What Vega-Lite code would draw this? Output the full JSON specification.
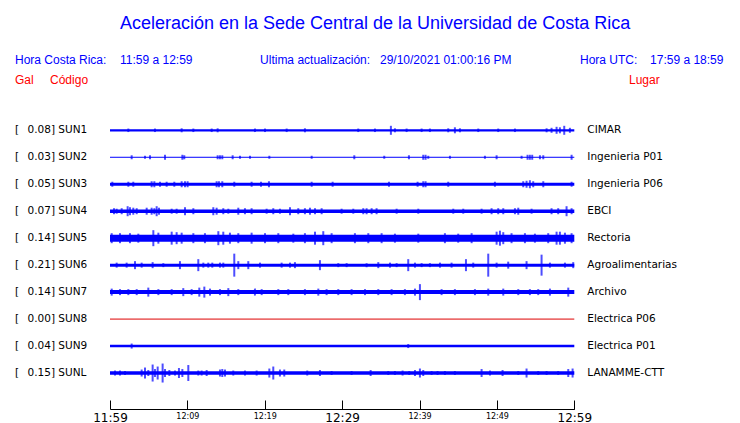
{
  "$schema": "https://vega.github.io/schema/vega-lite/v6.json",
  "width": 464.3,
  "height": 296.67,
  "autosize": {"type": "none"},
  "padding": {"left": 110, "right": 165.7, "top": 103.33, "bottom": 23},
  "background": "white",
  "config": {"view": {"stroke": null}},
  "datasets": {
    "estaciones": [
      {"codigo": "SUN1", "etiqueta": "0.08] SUN1", "lugar": "CIMAR", "fila": 1, "ruido": 2.2, "estado": "activa"},
      {"codigo": "SUN2", "etiqueta": "0.03] SUN2", "lugar": "Ingenieria P01", "fila": 2, "ruido": 1, "estado": "activa"},
      {"codigo": "SUN3", "etiqueta": "0.05] SUN3", "lugar": "Ingenieria P06", "fila": 3, "ruido": 3, "estado": "activa"},
      {"codigo": "SUN4", "etiqueta": "0.07] SUN4", "lugar": "EBCI", "fila": 4, "ruido": 3.5, "estado": "activa"},
      {"codigo": "SUN5", "etiqueta": "0.14] SUN5", "lugar": "Rectoria", "fila": 5, "ruido": 7, "estado": "activa"},
      {"codigo": "SUN6", "etiqueta": "0.21] SUN6", "lugar": "Agroalimentarias", "fila": 6, "ruido": 3, "estado": "activa"},
      {"codigo": "SUN7", "etiqueta": "0.14] SUN7", "lugar": "Archivo", "fila": 7, "ruido": 4, "estado": "activa"},
      {"codigo": "SUN8", "etiqueta": "0.00] SUN8", "lugar": "Electrica P06", "fila": 8, "ruido": 1, "estado": "sin datos"},
      {"codigo": "SUN9", "etiqueta": "0.04] SUN9", "lugar": "Electrica P01", "fila": 9, "ruido": 2.5, "estado": "activa"},
      {"codigo": "SUNL", "etiqueta": "0.15] SUNL", "lugar": "LANAMME-CTT", "fila": 10, "ruido": 3.5, "estado": "activa"}
    ],
    "picos": [
      {"c":"SUN1","t":2.37,"a":3.5},{"c":"SUN1","t":5.81,"a":3.5},{"c":"SUN1","t":9.26,"a":4},{"c":"SUN1","t":10.77,"a":3.5},{"c":"SUN1","t":13.14,"a":3.5},{"c":"SUN1","t":13.91,"a":4},{"c":"SUN1","t":18.73,"a":3.5},{"c":"SUN1","t":20.03,"a":3.5},{"c":"SUN1","t":22.83,"a":3.5},{"c":"SUN1","t":25.19,"a":4},{"c":"SUN1","t":32.08,"a":3.5},{"c":"SUN1","t":34.24,"a":3.5},{"c":"SUN1","t":36.3,"a":9},{"c":"SUN1","t":36.82,"a":4},{"c":"SUN1","t":38.33,"a":3.5},{"c":"SUN1","t":40.27,"a":3.5},{"c":"SUN1","t":41.34,"a":3.5},{"c":"SUN1","t":43.71,"a":4},{"c":"SUN1","t":44.57,"a":6},{"c":"SUN1","t":45.22,"a":4},{"c":"SUN1","t":47.59,"a":3.5},{"c":"SUN1","t":50.17,"a":3.5},{"c":"SUN1","t":52.33,"a":3.5},{"c":"SUN1","t":56.42,"a":4},{"c":"SUN1","t":57.06,"a":5},{"c":"SUN1","t":57.71,"a":7},{"c":"SUN1","t":58.14,"a":6},{"c":"SUN1","t":58.7,"a":9},{"c":"SUN1","t":59.43,"a":5},
      {"c":"SUN2","t":2.8,"a":4},{"c":"SUN2","t":4.52,"a":3},{"c":"SUN2","t":5.17,"a":4},{"c":"SUN2","t":7.11,"a":5},{"c":"SUN2","t":9.35,"a":5},{"c":"SUN2","t":9.6,"a":4},{"c":"SUN2","t":13.91,"a":4},{"c":"SUN2","t":14.21,"a":4},{"c":"SUN2","t":14.51,"a":4},{"c":"SUN2","t":15.85,"a":4},{"c":"SUN2","t":16.8,"a":3},{"c":"SUN2","t":18.09,"a":3},{"c":"SUN2","t":20.59,"a":3},{"c":"SUN2","t":26.06,"a":3},{"c":"SUN2","t":31.57,"a":4},{"c":"SUN2","t":35.44,"a":3},{"c":"SUN2","t":38.63,"a":4},{"c":"SUN2","t":40.48,"a":5},{"c":"SUN2","t":40.78,"a":5},{"c":"SUN2","t":41.13,"a":3},{"c":"SUN2","t":43.93,"a":3},{"c":"SUN2","t":48.45,"a":3},{"c":"SUN2","t":49.96,"a":4},{"c":"SUN2","t":53.19,"a":3},{"c":"SUN2","t":53.96,"a":5},{"c":"SUN2","t":54.26,"a":5},{"c":"SUN2","t":54.56,"a":5},{"c":"SUN2","t":55.56,"a":4},{"c":"SUN2","t":55.99,"a":4},{"c":"SUN2","t":59.65,"a":5},
      {"c":"SUN3","t":0.3,"a":5},{"c":"SUN3","t":2.37,"a":5},{"c":"SUN3","t":3.01,"a":5},{"c":"SUN3","t":5.38,"a":6},{"c":"SUN3","t":5.73,"a":6},{"c":"SUN3","t":6.46,"a":5},{"c":"SUN3","t":7.32,"a":5},{"c":"SUN3","t":8.31,"a":5},{"c":"SUN3","t":9.26,"a":6},{"c":"SUN3","t":9.69,"a":6},{"c":"SUN3","t":10.03,"a":6},{"c":"SUN3","t":13.78,"a":6},{"c":"SUN3","t":14.08,"a":6},{"c":"SUN3","t":14.51,"a":6},{"c":"SUN3","t":16.06,"a":5},{"c":"SUN3","t":18.3,"a":5},{"c":"SUN3","t":19.51,"a":5},{"c":"SUN3","t":20.54,"a":6},{"c":"SUN3","t":26.06,"a":5},{"c":"SUN3","t":28.77,"a":5},{"c":"SUN3","t":36.05,"a":5},{"c":"SUN3","t":39.75,"a":5},{"c":"SUN3","t":40.48,"a":6},{"c":"SUN3","t":40.78,"a":6},{"c":"SUN3","t":43.71,"a":5},{"c":"SUN3","t":49.74,"a":5},{"c":"SUN3","t":53.4,"a":6},{"c":"SUN3","t":53.83,"a":7},{"c":"SUN3","t":54.26,"a":8},{"c":"SUN3","t":54.69,"a":6},{"c":"SUN3","t":55.99,"a":6},{"c":"SUN3","t":59.65,"a":5},
      {"c":"SUN4","t":0.52,"a":6},{"c":"SUN4","t":0.86,"a":5},{"c":"SUN4","t":1.51,"a":6},{"c":"SUN4","t":2.28,"a":10},{"c":"SUN4","t":2.58,"a":8},{"c":"SUN4","t":3.01,"a":7},{"c":"SUN4","t":3.45,"a":6},{"c":"SUN4","t":4.74,"a":7},{"c":"SUN4","t":5.38,"a":7},{"c":"SUN4","t":5.73,"a":6},{"c":"SUN4","t":6.03,"a":10},{"c":"SUN4","t":6.33,"a":7},{"c":"SUN4","t":7.97,"a":5},{"c":"SUN4","t":8.61,"a":5},{"c":"SUN4","t":9.69,"a":8},{"c":"SUN4","t":10.77,"a":6},{"c":"SUN4","t":13.35,"a":8},{"c":"SUN4","t":13.78,"a":7},{"c":"SUN4","t":14.64,"a":6},{"c":"SUN4","t":15.29,"a":5},{"c":"SUN4","t":16.58,"a":7},{"c":"SUN4","t":17.44,"a":6},{"c":"SUN4","t":18.3,"a":6},{"c":"SUN4","t":20.24,"a":5},{"c":"SUN4","t":21.1,"a":6},{"c":"SUN4","t":21.96,"a":5},{"c":"SUN4","t":23.26,"a":8},{"c":"SUN4","t":24.33,"a":6},{"c":"SUN4","t":25.19,"a":6},{"c":"SUN4","t":25.84,"a":7},{"c":"SUN4","t":26.49,"a":6},{"c":"SUN4","t":27.35,"a":6},{"c":"SUN4","t":29.93,"a":5},{"c":"SUN4","t":31.44,"a":5},{"c":"SUN4","t":32.73,"a":6},{"c":"SUN4","t":33.16,"a":6},{"c":"SUN4","t":33.81,"a":6},{"c":"SUN4","t":34.45,"a":6},{"c":"SUN4","t":37.04,"a":5},{"c":"SUN4","t":39.84,"a":5},{"c":"SUN4","t":44.36,"a":5},{"c":"SUN4","t":45.65,"a":5},{"c":"SUN4","t":48.02,"a":5},{"c":"SUN4","t":49.31,"a":6},{"c":"SUN4","t":50.17,"a":6},{"c":"SUN4","t":50.82,"a":6},{"c":"SUN4","t":52.33,"a":6},{"c":"SUN4","t":52.76,"a":7},{"c":"SUN4","t":54.48,"a":5},{"c":"SUN4","t":57.06,"a":6},{"c":"SUN4","t":57.92,"a":6},{"c":"SUN4","t":59.0,"a":10},{"c":"SUN4","t":59.65,"a":6},
      {"c":"SUN5","t":0.22,"a":10},{"c":"SUN5","t":1.29,"a":10},{"c":"SUN5","t":2.58,"a":10},{"c":"SUN5","t":3.66,"a":9},{"c":"SUN5","t":5.6,"a":16},{"c":"SUN5","t":6.25,"a":11},{"c":"SUN5","t":7.97,"a":13},{"c":"SUN5","t":8.61,"a":12},{"c":"SUN5","t":9.26,"a":11},{"c":"SUN5","t":10.77,"a":10},{"c":"SUN5","t":12.27,"a":10},{"c":"SUN5","t":14.0,"a":14},{"c":"SUN5","t":14.64,"a":13},{"c":"SUN5","t":15.5,"a":11},{"c":"SUN5","t":16.58,"a":10},{"c":"SUN5","t":18.3,"a":11},{"c":"SUN5","t":20.03,"a":10},{"c":"SUN5","t":21.75,"a":10},{"c":"SUN5","t":23.69,"a":9},{"c":"SUN5","t":25.19,"a":10},{"c":"SUN5","t":26.49,"a":13},{"c":"SUN5","t":27.56,"a":14},{"c":"SUN5","t":28.64,"a":10},{"c":"SUN5","t":31.65,"a":10},{"c":"SUN5","t":33.38,"a":10},{"c":"SUN5","t":35.1,"a":10},{"c":"SUN5","t":36.82,"a":9},{"c":"SUN5","t":39.84,"a":9},{"c":"SUN5","t":43.28,"a":10},{"c":"SUN5","t":45.0,"a":9},{"c":"SUN5","t":46.73,"a":10},{"c":"SUN5","t":49.96,"a":13},{"c":"SUN5","t":50.39,"a":15},{"c":"SUN5","t":50.82,"a":12},{"c":"SUN5","t":51.89,"a":10},{"c":"SUN5","t":53.62,"a":10},{"c":"SUN5","t":54.91,"a":9},{"c":"SUN5","t":56.63,"a":10},{"c":"SUN5","t":57.71,"a":13},{"c":"SUN5","t":58.14,"a":13},{"c":"SUN5","t":58.79,"a":11},{"c":"SUN5","t":59.65,"a":10},
      {"c":"SUN6","t":0.86,"a":5},{"c":"SUN6","t":2.15,"a":5},{"c":"SUN6","t":3.23,"a":8},{"c":"SUN6","t":4.09,"a":5},{"c":"SUN6","t":5.51,"a":6},{"c":"SUN6","t":6.89,"a":4},{"c":"SUN6","t":9.04,"a":8},{"c":"SUN6","t":11.41,"a":12},{"c":"SUN6","t":12.06,"a":5},{"c":"SUN6","t":12.7,"a":5},{"c":"SUN6","t":13.22,"a":5},{"c":"SUN6","t":14.21,"a":5},{"c":"SUN6","t":14.64,"a":5},{"c":"SUN6","t":16.06,"a":23},{"c":"SUN6","t":16.58,"a":8},{"c":"SUN6","t":17.87,"a":8},{"c":"SUN6","t":19.38,"a":5},{"c":"SUN6","t":22.18,"a":5},{"c":"SUN6","t":23.26,"a":5},{"c":"SUN6","t":23.9,"a":6},{"c":"SUN6","t":27.13,"a":10},{"c":"SUN6","t":29.5,"a":4},{"c":"SUN6","t":30.58,"a":4},{"c":"SUN6","t":33.16,"a":4},{"c":"SUN6","t":34.67,"a":6},{"c":"SUN6","t":36.18,"a":5},{"c":"SUN6","t":37.04,"a":4},{"c":"SUN6","t":38.54,"a":12},{"c":"SUN6","t":39.41,"a":5},{"c":"SUN6","t":40.27,"a":4},{"c":"SUN6","t":41.34,"a":4},{"c":"SUN6","t":42.64,"a":5},{"c":"SUN6","t":44.14,"a":5},{"c":"SUN6","t":46.0,"a":12},{"c":"SUN6","t":46.94,"a":5},{"c":"SUN6","t":48.88,"a":23},{"c":"SUN6","t":49.96,"a":5},{"c":"SUN6","t":51.46,"a":7},{"c":"SUN6","t":53.83,"a":8},{"c":"SUN6","t":55.77,"a":21},{"c":"SUN6","t":56.85,"a":5},{"c":"SUN6","t":58.79,"a":5},{"c":"SUN6","t":59.86,"a":6},
      {"c":"SUN7","t":0.22,"a":7},{"c":"SUN7","t":1.29,"a":6},{"c":"SUN7","t":2.37,"a":6},{"c":"SUN7","t":3.45,"a":6},{"c":"SUN7","t":4.95,"a":9},{"c":"SUN7","t":6.25,"a":6},{"c":"SUN7","t":7.97,"a":6},{"c":"SUN7","t":9.47,"a":8},{"c":"SUN7","t":10.55,"a":6},{"c":"SUN7","t":11.54,"a":9},{"c":"SUN7","t":12.19,"a":11},{"c":"SUN7","t":12.92,"a":7},{"c":"SUN7","t":14.21,"a":6},{"c":"SUN7","t":15.29,"a":8},{"c":"SUN7","t":16.58,"a":6},{"c":"SUN7","t":18.73,"a":7},{"c":"SUN7","t":19.6,"a":6},{"c":"SUN7","t":21.75,"a":6},{"c":"SUN7","t":23.04,"a":6},{"c":"SUN7","t":25.19,"a":6},{"c":"SUN7","t":26.92,"a":7},{"c":"SUN7","t":27.99,"a":6},{"c":"SUN7","t":29.5,"a":6},{"c":"SUN7","t":31.22,"a":6},{"c":"SUN7","t":32.95,"a":6},{"c":"SUN7","t":34.67,"a":6},{"c":"SUN7","t":36.39,"a":6},{"c":"SUN7","t":38.11,"a":6},{"c":"SUN7","t":39.41,"a":7},{"c":"SUN7","t":40.05,"a":16},{"c":"SUN7","t":42.85,"a":6},{"c":"SUN7","t":44.57,"a":6},{"c":"SUN7","t":47.16,"a":6},{"c":"SUN7","t":48.88,"a":7},{"c":"SUN7","t":50.82,"a":7},{"c":"SUN7","t":52.76,"a":6},{"c":"SUN7","t":54.26,"a":6},{"c":"SUN7","t":55.34,"a":6},{"c":"SUN7","t":56.85,"a":7},{"c":"SUN7","t":59.22,"a":9},
      {"c":"SUN9","t":2.8,"a":5},{"c":"SUN9","t":38.54,"a":4},
      {"c":"SUNL","t":0.65,"a":5},{"c":"SUNL","t":1.29,"a":5},{"c":"SUNL","t":1.94,"a":4},{"c":"SUNL","t":4.09,"a":7},{"c":"SUNL","t":4.52,"a":11},{"c":"SUNL","t":4.95,"a":6},{"c":"SUNL","t":5.51,"a":17},{"c":"SUNL","t":5.81,"a":8},{"c":"SUNL","t":6.16,"a":13},{"c":"SUNL","t":6.8,"a":19},{"c":"SUNL","t":7.11,"a":8},{"c":"SUNL","t":7.67,"a":6},{"c":"SUNL","t":8.4,"a":5},{"c":"SUNL","t":8.91,"a":10},{"c":"SUNL","t":9.35,"a":8},{"c":"SUNL","t":10.12,"a":16},{"c":"SUNL","t":11.41,"a":5},{"c":"SUNL","t":11.84,"a":5},{"c":"SUNL","t":12.49,"a":6},{"c":"SUNL","t":14.21,"a":7},{"c":"SUNL","t":14.51,"a":8},{"c":"SUNL","t":14.86,"a":7},{"c":"SUNL","t":15.93,"a":5},{"c":"SUNL","t":17.44,"a":5},{"c":"SUNL","t":18.95,"a":5},{"c":"SUNL","t":20.59,"a":9},{"c":"SUNL","t":21.1,"a":13},{"c":"SUNL","t":21.96,"a":7},{"c":"SUNL","t":22.52,"a":7},{"c":"SUNL","t":25.49,"a":5},{"c":"SUNL","t":27.13,"a":6},{"c":"SUNL","t":28.64,"a":4},{"c":"SUNL","t":31.22,"a":4},{"c":"SUNL","t":33.68,"a":6},{"c":"SUNL","t":35.96,"a":4},{"c":"SUNL","t":36.82,"a":4},{"c":"SUNL","t":37.81,"a":5},{"c":"SUNL","t":38.67,"a":4},{"c":"SUNL","t":39.41,"a":6},{"c":"SUNL","t":40.05,"a":9},{"c":"SUNL","t":40.48,"a":6},{"c":"SUNL","t":41.56,"a":4},{"c":"SUNL","t":42.33,"a":4},{"c":"SUNL","t":43.28,"a":4},{"c":"SUNL","t":44.57,"a":4},{"c":"SUNL","t":48.02,"a":8},{"c":"SUNL","t":49.1,"a":5},{"c":"SUNL","t":50.73,"a":6},{"c":"SUNL","t":52.76,"a":4},{"c":"SUNL","t":53.83,"a":9},{"c":"SUNL","t":55.34,"a":4},{"c":"SUNL","t":56.42,"a":4},{"c":"SUNL","t":57.92,"a":4},{"c":"SUNL","t":59.22,"a":8},{"c":"SUNL","t":59.78,"a":9}
    ]
  },
  "layer": [
    {
      "data": {"name": "estaciones"},
      "mark": {"type": "rule"},
      "encoding": {
        "x": {"datum": 0, "type": "quantitative"},
        "x2": {"datum": 60},
        "y": {"field": "fila", "type": "quantitative", "scale": {"domain": [0, 11], "reverse": true, "nice": false, "zero": false}, "axis": null},
        "strokeWidth": {"field": "ruido", "type": "quantitative", "scale": {"domain": [0, 10], "range": [0, 10]}, "legend": null},
        "color": {"field": "estado", "type": "nominal", "scale": {"domain": ["activa", "sin datos"], "range": ["#0000ff", "#dd0000"]}, "legend": null}
      }
    },
    {
      "data": {"name": "picos"},
      "transform": [{"lookup": "c", "from": {"data": {"name": "estaciones"}, "key": "codigo", "fields": ["fila"]}}],
      "mark": {"type": "tick", "orient": "vertical", "thickness": 2, "color": "#0000ff"},
      "encoding": {
        "x": {"field": "t", "type": "quantitative", "scale": {"domain": [0, 60], "nice": false, "zero": false},
          "axis": {
            "title": null, "orient": "bottom", "offset": 9, "grid": false,
            "values": [0, 5, 10, 15, 20, 25, 30, 35, 40, 45, 50, 55, 60],
            "labelExpr": "datum.value % 10 == 0 ? ['11:59','12:09','12:19','12:29','12:39','12:49','12:59'][datum.value / 10] : ''",
            "tickSize": -9, "tickColor": "black", "tickWidth": 1,
            "domainColor": "black", "domainWidth": 1,
            "labelColor": "black", "labelFont": "DejaVu Sans",
            "labelFontSize": {"condition": {"test": "datum.value % 30 == 0", "value": 12}, "value": 8},
            "labelBaseline": "alphabetic",
            "labelPadding": {"condition": {"test": "datum.value % 30 == 0", "value": 21}, "value": 18.3},
            "labelOverlap": false, "labelFlush": false, "labelBound": false
          }},
        "y": {"field": "fila", "type": "quantitative", "axis": null},
        "size": {"field": "a", "type": "quantitative", "scale": {"domain": [0, 25], "range": [0, 25]}, "legend": null}
      }
    },
    {
      "data": {"name": "estaciones"},
      "mark": {"type": "text", "text": "[", "align": "left", "baseline": "middle", "font": "DejaVu Sans", "fontSize": 10.5, "color": "black"},
      "encoding": {
        "x": {"datum": -12.28, "type": "quantitative"},
        "y": {"field": "fila", "type": "quantitative", "axis": null}
      }
    },
    {
      "data": {"name": "estaciones"},
      "mark": {"type": "text", "align": "left", "baseline": "middle", "font": "DejaVu Sans", "fontSize": 10.5, "color": "black"},
      "encoding": {
        "x": {"datum": -10.66, "type": "quantitative"},
        "y": {"field": "fila", "type": "quantitative", "axis": null},
        "text": {"field": "etiqueta", "type": "nominal"}
      }
    },
    {
      "data": {"name": "estaciones"},
      "mark": {"type": "text", "align": "left", "baseline": "middle", "font": "DejaVu Sans", "fontSize": 10.5, "color": "black"},
      "encoding": {
        "x": {"datum": 61.68, "type": "quantitative"},
        "y": {"field": "fila", "type": "quantitative", "axis": null},
        "text": {"field": "lugar", "type": "nominal"}
      }
    },
    {
      "data": {"values": [{"texto": "Aceleración en la Sede Central de la Universidad de Costa Rica"}]},
      "mark": {"type": "text", "align": "center", "baseline": "alphabetic", "font": "Liberation Sans", "fontSize": 18, "color": "#0000ff"},
      "encoding": {"x": {"datum": 34.25, "type": "quantitative"}, "y": {"datum": -2.756, "type": "quantitative", "axis": null}, "text": {"field": "texto", "type": "nominal"}}
    },
    {
      "data": {"values": [{"texto": "Hora Costa Rica:"}]},
      "mark": {"type": "text", "align": "left", "baseline": "alphabetic", "font": "Liberation Sans", "fontSize": 12, "color": "#0000ff"},
      "encoding": {"x": {"datum": -12.28, "type": "quantitative"}, "y": {"datum": -1.44, "type": "quantitative", "axis": null}, "text": {"field": "texto", "type": "nominal"}}
    },
    {
      "data": {"values": [{"texto": "11:59 a 12:59"}]},
      "mark": {"type": "text", "align": "left", "baseline": "alphabetic", "font": "Liberation Sans", "fontSize": 12, "color": "#0000ff"},
      "encoding": {"x": {"datum": 1.29, "type": "quantitative"}, "y": {"datum": -1.44, "type": "quantitative", "axis": null}, "text": {"field": "texto", "type": "nominal"}}
    },
    {
      "data": {"values": [{"texto": "Ultima actualización:"}]},
      "mark": {"type": "text", "align": "left", "baseline": "alphabetic", "font": "Liberation Sans", "fontSize": 12, "color": "#0000ff"},
      "encoding": {"x": {"datum": 19.39, "type": "quantitative"}, "y": {"datum": -1.44, "type": "quantitative", "axis": null}, "text": {"field": "texto", "type": "nominal"}}
    },
    {
      "data": {"values": [{"texto": "29/10/2021 01:00:16 PM"}]},
      "mark": {"type": "text", "align": "left", "baseline": "alphabetic", "font": "Liberation Sans", "fontSize": 12, "color": "#0000ff"},
      "encoding": {"x": {"datum": 34.89, "type": "quantitative"}, "y": {"datum": -1.44, "type": "quantitative", "axis": null}, "text": {"field": "texto", "type": "nominal"}}
    },
    {
      "data": {"values": [{"texto": "Hora UTC:"}]},
      "mark": {"type": "text", "align": "left", "baseline": "alphabetic", "font": "Liberation Sans", "fontSize": 12, "color": "#0000ff"},
      "encoding": {"x": {"datum": 60.74, "type": "quantitative"}, "y": {"datum": -1.44, "type": "quantitative", "axis": null}, "text": {"field": "texto", "type": "nominal"}}
    },
    {
      "data": {"values": [{"texto": "17:59 a 18:59"}]},
      "mark": {"type": "text", "align": "left", "baseline": "alphabetic", "font": "Liberation Sans", "fontSize": 12, "color": "#0000ff"},
      "encoding": {"x": {"datum": 69.79, "type": "quantitative"}, "y": {"datum": -1.44, "type": "quantitative", "axis": null}, "text": {"field": "texto", "type": "nominal"}}
    },
    {
      "data": {"values": [{"texto": "Gal"}]},
      "mark": {"type": "text", "align": "left", "baseline": "alphabetic", "font": "Liberation Sans", "fontSize": 12, "color": "#ff0000"},
      "encoding": {"x": {"datum": -12.28, "type": "quantitative"}, "y": {"datum": -0.717, "type": "quantitative", "axis": null}, "text": {"field": "texto", "type": "nominal"}}
    },
    {
      "data": {"values": [{"texto": "Código"}]},
      "mark": {"type": "text", "align": "left", "baseline": "alphabetic", "font": "Liberation Sans", "fontSize": 12, "color": "#ff0000"},
      "encoding": {"x": {"datum": -7.75, "type": "quantitative"}, "y": {"datum": -0.717, "type": "quantitative", "axis": null}, "text": {"field": "texto", "type": "nominal"}}
    },
    {
      "data": {"values": [{"texto": "Lugar"}]},
      "mark": {"type": "text", "align": "left", "baseline": "alphabetic", "font": "Liberation Sans", "fontSize": 12, "color": "#ff0000"},
      "encoding": {"x": {"datum": 67.07, "type": "quantitative"}, "y": {"datum": -0.717, "type": "quantitative", "axis": null}, "text": {"field": "texto", "type": "nominal"}}
    }
  ]
}
